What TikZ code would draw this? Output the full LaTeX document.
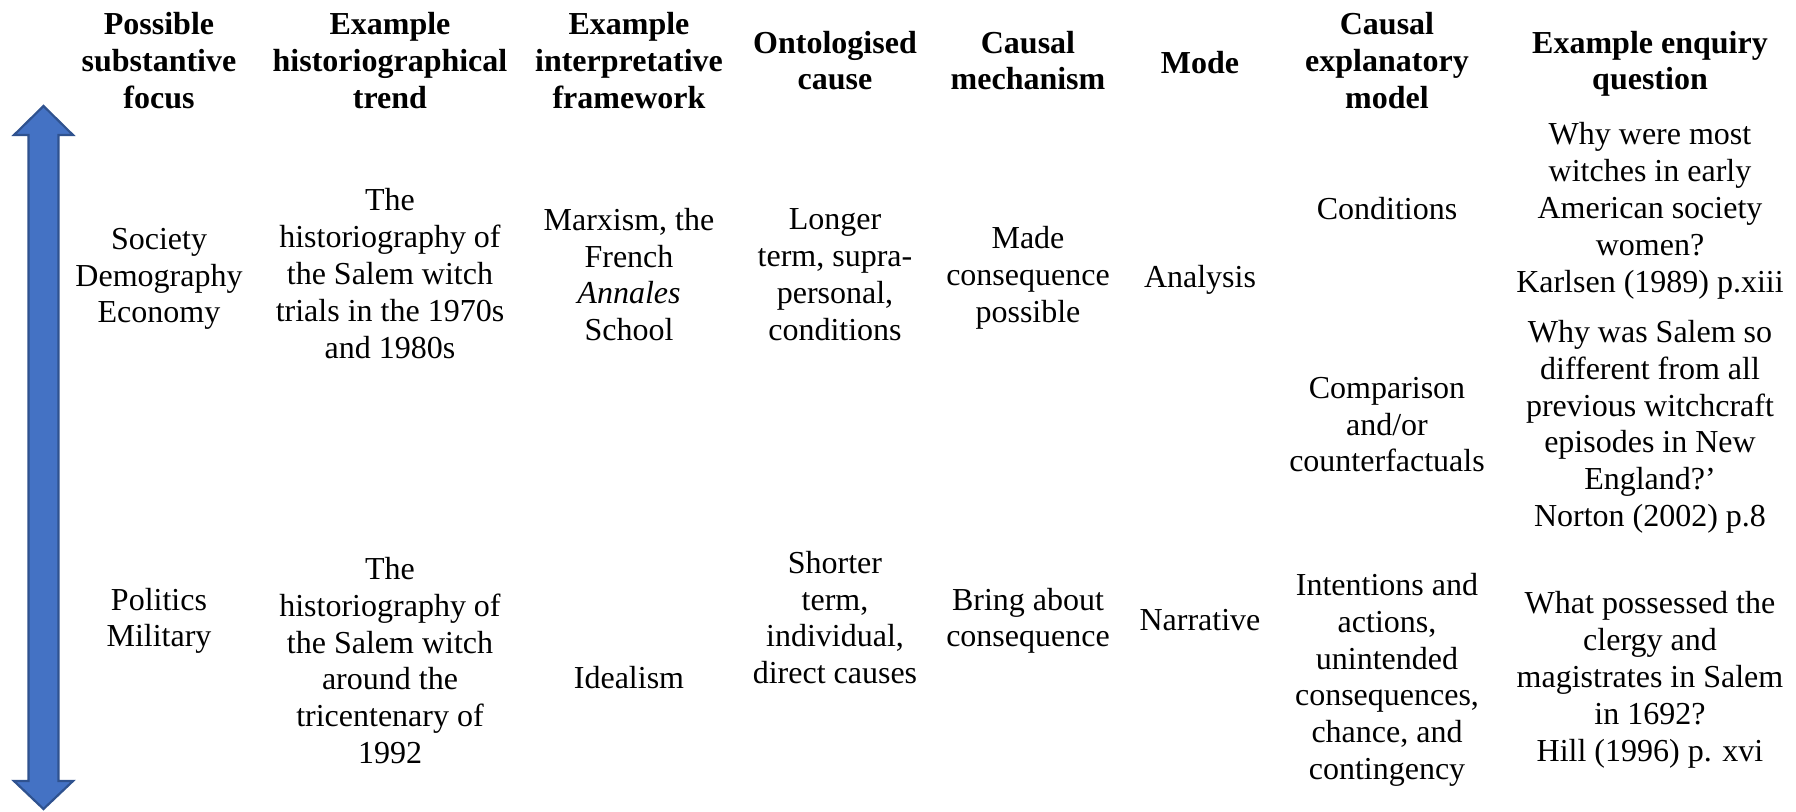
\documentclass[tikz,border=0pt]{standalone}
\usepackage{fontspec}
\setmainfont{Liberation Serif}
\definecolor{arrowfill}{RGB}{68,114,196}
\definecolor{arrowline}{RGB}{47,82,143}
\begin{document}
\begin{tikzpicture}[x=0.5pt,y=-0.5pt,
  cell/.style={align=center, inner sep=0pt, yshift=-2.5pt,
    font=\fontsize{16}{18.4}\selectfont,
    execute at begin node=\strut, execute at end node=\strut},
  head/.style={cell, font=\fontsize{16}{18.4}\selectfont\bfseries}]
\useasboundingbox (0,0) rectangle (1796,811);

% double-headed scale arrow on the left
\draw[fill=arrowfill, draw=arrowline, line width=1.1pt]
  (43.5,106) -- (73,135) -- (58.5,135) -- (58.5,781) -- (73,781)
  -- (43.5,809) -- (14,781) -- (28.5,781) -- (28.5,135) -- (14,135) -- cycle;

% column headings
\node[head] (h1) at (159,61)  {Possible\\substantive\\focus};
\node[head] (h2) at (390,61)  {Example\\historiographical\\trend};
\node[head] (h3) at (629,61)  {Example\\interpretative\\framework};
\node[head] (h4) at (835,61)  {Ontologised\\cause};
\node[head] (h5) at (1028,61) {Causal\\mechanism};
\node[head] (h6) at (1200,61) {Mode};
\node[head] (h7) at (1387,61) {Causal\\explanatory\\model};
\node[head] (h8) at (1650,61) {Example enquiry\\question};

% upper row
\node[cell] (focusA)  at (159,276)  {Society\\Demography\\Economy};
\node[cell] (trendA)  at (390,274)  {The\\historiography of\\the Salem witch\\trials in the 1970s\\and 1980s};
\node[cell] (frameA)  at (629,275)  {Marxism, the\\French\\\textit{Annales}\\School};
\node[cell] (causeA)  at (835,275)  {Longer\\term, supra-\\personal,\\conditions};
\node[cell] (mechA)   at (1028,275) {Made\\consequence\\possible};
\node[cell] (modeA)   at (1200,275) {Analysis};
\node[cell] (modelA)  at (1387,207) {Conditions};
\node[cell] (questA)  at (1650,208) {Why were most\\witches in early\\American society\\women?\\Karlsen (1989) p.xiii};

% middle entries
\node[cell] (modelB)  at (1387,425) {Comparison\\and/or\\counterfactuals};
\node[cell] (questB)  at (1650,424) {Why was Salem so\\different from all\\previous witchcraft\\episodes in New\\England?’\\Norton (2002) p.8};

% lower row
\node[cell] (focusC)  at (159,618)  {Politics\\Military};
\node[cell] (trendC)  at (390,661)  {The\\historiography of\\the Salem witch\\around the\\tricentenary of\\1992};
\node[cell] (frameC)  at (629,676)  {Idealism};
\node[cell] (causeC)  at (835,618)  {Shorter\\term,\\individual,\\direct causes};
\node[cell] (mechC)   at (1028,618) {Bring about\\consequence};
\node[cell] (modeC)   at (1200,618) {Narrative};
\node[cell] (modelC)  at (1387,677) {Intentions and\\actions,\\unintended\\consequences,\\chance, and\\contingency};
\node[cell] (questC)  at (1650,677) {What possessed the\\clergy and\\magistrates in Salem\\in 1692?\\Hill (1996) p. xvi};
\end{tikzpicture}
\end{document}
